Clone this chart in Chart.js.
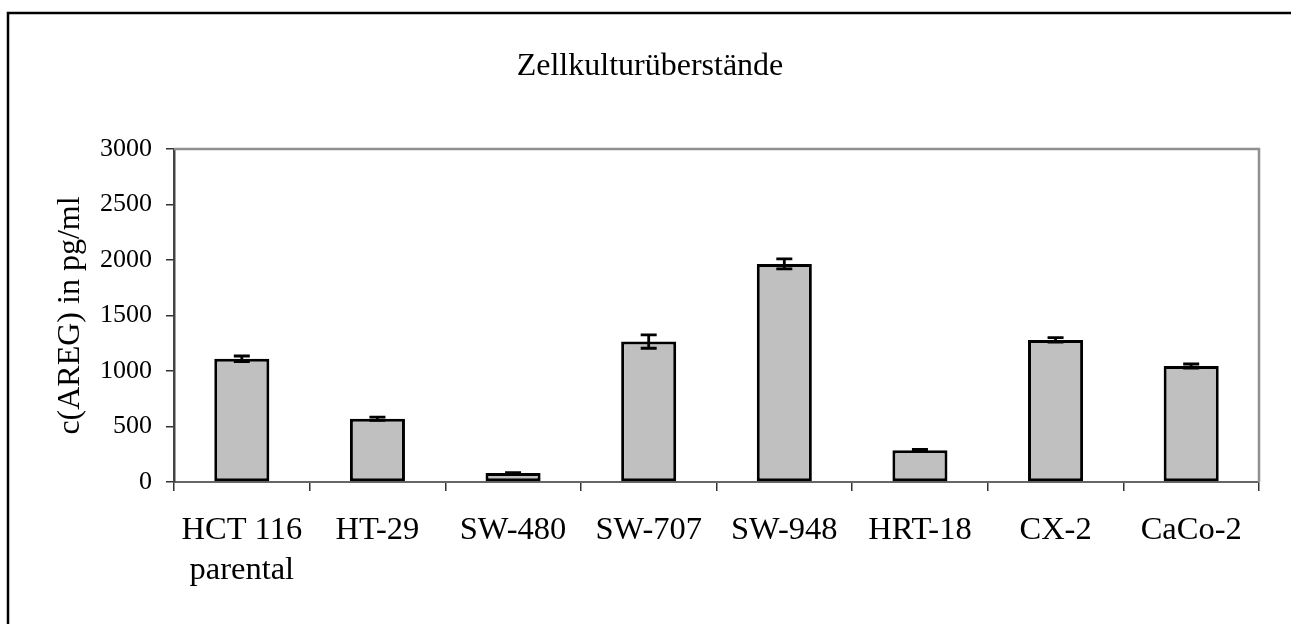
<!DOCTYPE html>
<html lang="de">
<head>
    <meta charset="UTF-8">
    <title>Zellkulturüberstände</title>
    <script src="https://cdn.jsdelivr.net/npm/chart.js"></script>
    <style>
        body { margin: 0; background: #fff; }
    </style>
</head>
<body>
    <canvas id="aregChart" width="1291" height="624"></canvas>
    <script>
        // values (pg/ml), error = SD
        const cellLines = [['HCT 116', 'parental'], 'HT-29', 'SW-480', 'SW-707', 'SW-948', 'HRT-18', 'CX-2', 'CaCo-2'];
        const aregMean = [1110, 570, 80, 1265, 1965, 285, 1280, 1045];
        const aregError = [25, 15, 5, 60, 45, 8, 20, 18];
        const yTicks = [0, 500, 1000, 1500, 2000, 2500, 3000];

        const serif = "'Liberation Serif', 'Times New Roman', serif";

        // outer frame (only left and top edge are visible in the figure)
        const frame = {
            id: 'frame',
            beforeDraw(chart) {
                const ctx = chart.ctx;
                ctx.save();
                ctx.strokeStyle = '#000';
                ctx.lineWidth = 2.5;
                ctx.beginPath();
                ctx.moveTo(8, chart.height);
                ctx.lineTo(8, 13);
                ctx.lineTo(chart.width, 13);
                ctx.stroke();
                ctx.restore();
            }
        };

        // grey top and right edge of the plot area
        const plotBorder = {
            id: 'plotBorder',
            beforeDatasetsDraw(chart) {
                const { ctx, chartArea: a } = chart;
                ctx.save();
                ctx.strokeStyle = '#909090';
                ctx.lineWidth = 2.5;
                ctx.beginPath();
                ctx.moveTo(a.left, a.top);
                ctx.lineTo(a.right, a.top);
                ctx.lineTo(a.right, a.bottom);
                ctx.stroke();
                ctx.restore();
            }
        };

        const errorBars = {
            id: 'errorBars',
            afterDatasetsDraw(chart) {
                const ctx = chart.ctx;
                const y = chart.scales.y;
                const bars = chart.getDatasetMeta(0).data;
                ctx.save();
                ctx.strokeStyle = '#000';
                ctx.lineWidth = 2.8;
                bars.forEach((bar, i) => {
                    const top = y.getPixelForValue(aregMean[i] + aregError[i]);
                    const bottom = y.getPixelForValue(aregMean[i] - aregError[i]);
                    const cap = 8;
                    ctx.beginPath();
                    ctx.moveTo(bar.x, top);
                    ctx.lineTo(bar.x, bottom);
                    ctx.moveTo(bar.x - cap, top);
                    ctx.lineTo(bar.x + cap, top);
                    ctx.moveTo(bar.x - cap, bottom);
                    ctx.lineTo(bar.x + cap, bottom);
                    ctx.stroke();
                });
                ctx.restore();
            }
        };

        const ctx = document.getElementById('aregChart').getContext('2d');
        new Chart(ctx, {
            type: 'bar',
            data: {
                labels: cellLines,
                datasets: [{
                    data: aregMean,
                    backgroundColor: '#c0c0c0',
                    borderColor: '#000',
                    borderWidth: 3,
                    borderSkipped: false,
                    categoryPercentage: 1,
                    barPercentage: 0.406
                }]
            },
            options: {
                responsive: false,
                animation: false,
                layout: { padding: { left: 41, right: 32, top: 13, bottom: 0 } },
                plugins: {
                    legend: { display: false },
                    tooltip: { enabled: false },
                    title: {
                        display: true,
                        text: 'Zellkulturüberstände',
                        color: '#000',
                        font: { family: serif, size: 32, weight: 'normal' },
                        padding: { top: 34, bottom: 63.6 }
                    }
                },
                scales: {
                    x: {
                        afterFit: s => { s.height = 142; },
                        grid: {
                            offset: true,
                            drawOnChartArea: false,
                            tickLength: 9,
                            color: '#333',
                            lineWidth: 1.5
                        },
                        border: { color: '#666', width: 2 },
                        ticks: {
                            color: '#000',
                            padding: 19,
                            maxRotation: 0,
                            font: { family: serif, size: 32.5, lineHeight: 1.25 }
                        }
                    },
                    y: {
                        min: 0,
                        max: 3000,
                        afterFit: s => { s.width = 133; },
                        afterBuildTicks: s => { s.ticks = yTicks.map(v => ({ value: v })); },
                        grid: {
                            drawOnChartArea: false,
                            tickLength: 8,
                            color: '#333',
                            lineWidth: 1.5
                        },
                        border: { color: '#444', width: 2.5 },
                        ticks: {
                            color: '#000',
                            padding: 14,
                            font: { family: serif, size: 26 },
                            callback: v => String(v)
                        },
                        title: {
                            display: true,
                            text: 'c(AREG) in pg/ml',
                            color: '#000',
                            padding: { top: 10, bottom: 0 },
                            font: { family: serif, size: 32 }
                        }
                    }
                }
            },
            plugins: [frame, plotBorder, errorBars]
        });
    </script>
</body>
</html>
